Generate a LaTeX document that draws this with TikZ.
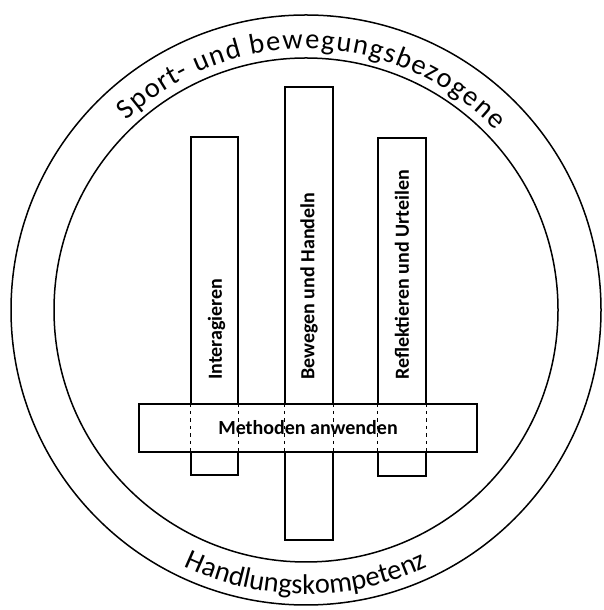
\documentclass[tikz,border=0pt]{standalone}
\usepackage{fontspec}
\setmainfont{Carlito}
\usetikzlibrary{decorations.text,calc}
\begin{document}
\begin{tikzpicture}[x=1pt,y=1pt,
  ring/.style={line width=1.5pt},
  bar/.style={draw, line width=1.2pt, fill=white, inner sep=0pt},
  barlabel/.style={rotate=90, anchor=west, inner sep=0pt, font=\fontsize{20}{20}\bfseries\selectfont},
  sep/.style={line width=0.9pt, dash pattern=on 3.5pt off 4pt}]
\useasboundingbox (0,0) rectangle (603,610);
\coordinate (C) at (306,300);
\draw[ring] (C) circle[radius=295];
\draw[ring] (C) circle[radius=252];
% bars
\node[bar, minimum width=47pt, minimum height=338pt] (inter) at (214.5,304) {};
\node[bar, minimum width=48pt, minimum height=453pt] (beweg) at (309,296.5) {};
\node[bar, minimum width=48pt, minimum height=338pt] (refl) at (402,303) {};
\node[bar, minimum width=338pt, minimum height=48pt,
      font=\fontsize{20}{20}\bfseries\selectfont] (meth) at (308,182) {Methoden anwenden};
% dashed continuation of the bars inside the box
\foreach \b in {inter,beweg,refl}{
  \draw[sep] (\b.west |- meth.north) -- (\b.west |- meth.south);
  \draw[sep] (\b.east |- meth.north) -- (\b.east |- meth.south);
}
% bar labels
\node[barlabel] (linter) at ([xshift=2pt]inter.center |- 0,230) {Interagieren};
\node[barlabel] (lbeweg) at (beweg.center |- 0,230) {Bewegen und Handeln};
\node[barlabel] (lrefl) at (refl.center |- 0,230) {Reflektieren und Urteilen};
% curved texts
\path[decorate, decoration={text effects along path,
   text={Sport- und bewegungsbezogene},
   text effects/.cd, fit text to path,
   characters={font=\fontsize{28.5}{28.5}\selectfont},
   text along path}]
  ($(C)+(133.5:261)$) arc[start angle=133.5, end angle=43.5, radius=261];
\path[decorate, decoration={text along path, text align=center,
   text={|\fontsize{28.5}{28.5}\selectfont|Handlungskompetenz}}]
  ($(C)+(230:284)$) arc[start angle=230, end angle=310, radius=284];
\end{tikzpicture}
\end{document}
